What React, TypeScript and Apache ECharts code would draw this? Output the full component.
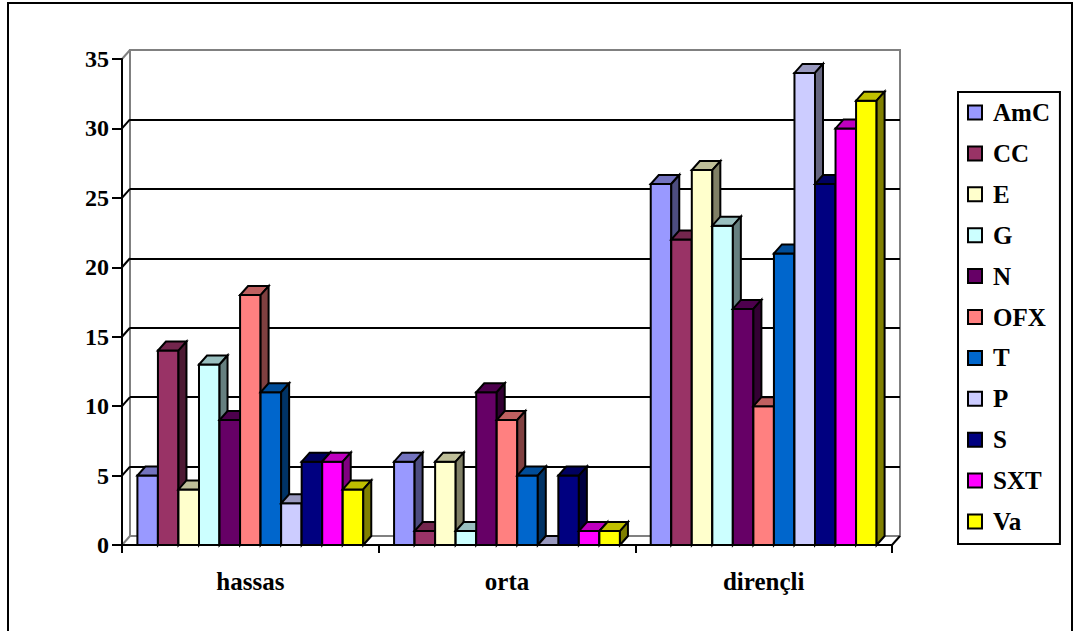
import React, { useEffect, useRef } from 'react';
import * as echarts from 'echarts';

const categories = ['hassas', 'orta', 'dirençli'];
const seriesNames = ['AmC', 'CC', 'E', 'G', 'N', 'OFX', 'T', 'P', 'S', 'SXT', 'Va'];
const seriesColors = ['#9999FF', '#993366', '#FFFFCC', '#CCFFFF', '#660066', '#FF8080', '#0066CC', '#CCCCFF', '#000080', '#FF00FF', '#FFFF00'];

const AmC = [5, 6, 26];
const CC = [14, 1, 22];
const E = [4, 6, 27];
const G = [13, 1, 23];
const N = [9, 11, 17];
const OFX = [18, 9, 10];
const T = [11, 5, 21];
const P = [3, 0, 34];
const S = [6, 5, 26];
const SXT = [6, 1, 30];
const Va = [4, 1, 32];
const seriesValues = [AmC, CC, E, G, N, OFX, T, P, S, SXT, Va];

const yTicks = [0, 5, 10, 15, 20, 25, 30, 35];

const FONT = '"Liberation Serif", "Times New Roman", serif';
const DX = 8;
const DY = 9;
const GROUP_FRAC = 0.88;
const BAR_FRAC = GROUP_FRAC / 11;

function shade(hex: string, f: number) {
  const n = parseInt(hex.slice(1), 16);
  const r = Math.round(((n >> 16) & 255) * f);
  const g = Math.round(((n >> 8) & 255) * f);
  const b = Math.round((n & 255) * f);
  return `rgb(${r},${g},${b})`;
}

export default function App() {
  const ref = useRef<HTMLDivElement>(null);
  useEffect(() => {
    if (!ref.current) return;
    const chart = echarts.init(ref.current, undefined, { renderer: 'svg' });

    const barSeries = seriesNames.map((name, i) => {
      const c = seriesColors[i];
      return {
        name,
        type: 'custom',
        xAxisIndex: 0,
        yAxisIndex: 0,
        itemStyle: { color: c },
        data: seriesValues[i].map((v, k) => [k, v]),
        encode: { x: 0, y: 1 },
        renderItem: (params: any, api: any) => {
          const cat = api.value(0);
          const v = api.value(1);
          const base = api.coord([cat, 0]);
          const topP = api.coord([cat, v]);
          const band = api.size([1, 0])[0];
          const w = band * BAR_FRAC;
          const x0 = base[0] - (band * GROUP_FRAC) / 2 + i * w;
          const x1 = x0 + w;
          const yb = base[1];
          const yt = topP[1];
          const st = { stroke: '#000', lineWidth: 2, lineJoin: 'miter' };
          return {
            type: 'group',
            children: [
              { type: 'rect', shape: { x: x0, y: yt, width: w, height: yb - yt }, style: { fill: c, ...st } },
              { type: 'polygon', shape: { points: [[x0, yt], [x1, yt], [x1 + DX, yt - DY], [x0 + DX, yt - DY]] }, style: { fill: shade(c, 0.75), ...st } },
              { type: 'polygon', shape: { points: [[x1, yt], [x1 + DX, yt - DY], [x1 + DX, yb - DY], [x1, yb]] }, style: { fill: shade(c, 0.5), ...st } },
            ],
          };
        },
      };
    });

    const decoSeries = {
      type: 'custom',
      xAxisIndex: 0,
      yAxisIndex: 0,
      silent: true,
      data: [[0, 0]],
      renderItem: (params: any, api: any) => {
        const cs = params.coordSys;
        const left = cs.x;
        const right = cs.x + cs.width;
        const children: any[] = yTicks.map((t, k) => {
          const y = api.coord([0, t])[1];
          const edge = k === 0 || k === yTicks.length - 1;
          return {
            type: 'line',
            shape: { x1: left, y1: y, x2: left + DX, y2: y - DY },
            style: { stroke: edge ? '#808080' : '#000', lineWidth: 2 },
          };
        });
        const yb = api.coord([0, 0])[1];
        children.push({
          type: 'line',
          shape: { x1: right, y1: yb, x2: right + DX, y2: yb - DY },
          style: { stroke: '#000', lineWidth: 2 },
        });
        return { type: 'group', children };
      },
    };

    const option: any = {
      animation: false,
      backgroundColor: '#fff',
      graphic: [
        {
          type: 'rect',
          shape: { x: 8, y: 3, width: 1064, height: 700 },
          style: { fill: 'none', stroke: '#000', lineWidth: 2 },
          z: 100,
          silent: true,
        },
      ],
      grid: [
        { left: 122, top: 59, width: 770, height: 486, containLabel: false },
        {
          left: 130, top: 50, width: 770, height: 486, containLabel: false,
          show: true, backgroundColor: '#fff', borderColor: '#808080', borderWidth: 2,
        },
      ],
      xAxis: [
        {
          type: 'category',
          gridIndex: 0,
          data: categories,
          axisLine: { lineStyle: { color: '#000', width: 2 } },
          axisTick: { show: true, length: 8, lineStyle: { color: '#000', width: 2 } },
          axisLabel: { margin: 24, color: '#000', fontFamily: FONT, fontWeight: 'bold', fontSize: 25 },
          splitLine: { show: false },
          z: 5,
        },
        {
          type: 'category',
          gridIndex: 1,
          data: categories,
          show: false,
        },
      ],
      yAxis: [
        {
          type: 'value',
          gridIndex: 0,
          min: 0,
          max: 35,
          interval: 5,
          axisLine: { show: true, lineStyle: { color: '#000', width: 2 } },
          axisTick: { show: true, length: 10, lineStyle: { color: '#000', width: 2 } },
          axisLabel: { margin: 13, color: '#000', fontFamily: FONT, fontWeight: 'bold', fontSize: 24 },
          splitLine: { show: false },
          z: 5,
        },
        {
          type: 'value',
          gridIndex: 1,
          min: 0,
          max: 35,
          interval: 5,
          axisLine: { show: false },
          axisTick: { show: false },
          axisLabel: { show: false },
          splitLine: { show: true, showMinLine: false, showMaxLine: false, lineStyle: { color: '#000', width: 2 } },
        },
      ],
      legend: {
        orient: 'vertical',
        left: 958,
        top: 92,
        padding: [8, 10, 10, 9],
        itemGap: 15.9,
        itemWidth: 14,
        itemHeight: 14,
        borderColor: '#000',
        borderWidth: 2,
        backgroundColor: '#fff',
        selectedMode: false,
        textStyle: { fontFamily: FONT, fontWeight: 'bold', fontSize: 25, color: '#000', lineHeight: 24, padding: [0, 0, 0, 6] },
        data: seriesNames.map((n, i) => ({
          name: n,
          icon: 'rect',
          itemStyle: { color: seriesColors[i], borderColor: '#000', borderWidth: 2 },
        })),
      },
      series: [decoSeries, ...barSeries],
    };
    chart.setOption(option);
    return () => chart.dispose();
  }, []);

  return <div ref={ref} style={{ position: 'absolute', left: 0, top: 0, width: 1080, height: 631 }} />;
}
